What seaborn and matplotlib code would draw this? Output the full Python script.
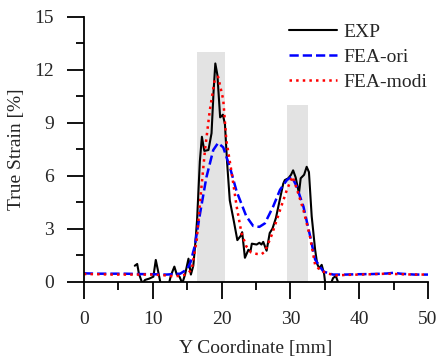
import numpy as np
import pandas as pd
import matplotlib
matplotlib.use("Agg")
import matplotlib.pyplot as plt
import seaborn as sns

# strain-gauge zones (shaded bars)
zone_start = [16.5, 29.5]
zone_end = [20.5, 32.5]
zone_height = [13, 10]

# experimental curve
exp_x = [7.4, 7.75, 8.0, 8.5, 8.9, 9.5, 10.1, 10.45, 10.85, 11.2, 12.0, 12.4,
         12.65, 13.15, 13.5, 13.9, 14.3, 14.7, 15.2, 15.55, 15.9, 16.2, 16.45,
         16.85, 17.15, 17.5, 18.1, 18.55, 18.85, 19.1, 19.4, 19.8, 20.2, 20.5,
         20.8, 21.2, 21.8, 22.3, 22.8, 23.0, 23.4, 23.9, 24.2, 24.4, 25.1, 25.5,
         25.8, 26.06, 26.55, 27.0, 27.4, 27.9, 28.5, 28.97, 29.2, 29.7, 30.1,
         30.4, 30.77, 31.25, 31.5, 32.0, 32.37, 32.7, 33.1, 33.6, 33.9, 34.2,
         34.55, 34.9, 35.1, 35.7, 36.2, 36.6, 37.0]
exp_y = [0.9, 1.0, 0.45, -0.1, 0.1, 0.17, 0.28, 1.23, 0.47, -0.2, -0.3, -0.05,
         0.35, 0.85, 0.4, 0.28, -0.1, 0.4, 1.3, 0.4, 0.9, 2.2, 3.5,
         6.8, 8.2, 7.4, 7.45, 8.4, 10.8, 12.35, 11.7, 9.3, 9.45, 8.9,
         6.8, 4.6, 3.4, 2.35, 2.6, 2.8, 1.35, 1.8, 1.7, 2.15, 2.1, 2.2,
         2.1, 2.25, 1.75, 2.75, 3.0, 3.6, 4.7, 5.55, 5.75, 5.85, 6.05,
         6.3, 5.9, 5.0, 5.85, 6.05, 6.5, 6.2, 3.7, 1.8, 1.0, 0.75,
         0.95, 0.45, -0.2, -0.3, 0.2, 0.32, -0.1]

# original FE model
ori_x = [0, 2, 4, 6, 8, 10, 12, 14, 15, 15.5, 16.1, 16.9, 17.8, 18.8, 19.5,
         20.25, 21.2, 22.2, 23.6, 24.6, 25.5, 26.3, 27.5, 28.5, 29.5, 30.2,
         30.9, 31.9, 32.8, 33.6, 34.8, 36.2, 38, 40, 42, 44, 45, 46, 48, 50]
ori_y = [0.47, 0.45, 0.45, 0.45, 0.43, 0.42, 0.4, 0.45, 0.7, 1.1, 2.0, 3.9,
         5.9, 7.45, 7.85, 7.6, 6.5, 5.1, 3.7, 3.15, 3.1, 3.3, 4.25, 5.2, 5.75,
         5.95, 5.4, 4.25, 2.7, 1.25, 0.57, 0.4, 0.4, 0.42, 0.43, 0.46, 0.5,
         0.45, 0.4, 0.4]

# modified FE model
modi_x = [0, 2, 4, 6, 8, 10, 12, 13, 14, 14.8, 15.65, 16.4, 16.9, 17.6, 18.3,
          19.0, 19.5, 20.25, 20.7, 21.5, 22.2, 22.9, 23.6, 24.3, 25.1, 25.8,
          26.3, 27.3, 28.5, 29.5, 30.3, 30.9, 31.9, 32.85, 33.6, 34.3, 35.3,
          36.7, 38, 40, 42, 44, 46, 48, 50]
modi_y = [0.43, 0.42, 0.4, 0.4, 0.4, 0.4, 0.35, 0.3, 0.33, 0.4, 0.66, 2.36,
          4.6, 7.45, 9.7, 11.4, 11.6, 10.3, 8.0, 6.1, 4.25, 2.75, 2.0, 1.65,
          1.57, 1.55, 1.7, 2.65, 4.05, 5.2, 5.95, 5.3, 4.05, 2.55, 0.95, 0.66,
          0.47, 0.35, 0.38, 0.4, 0.42, 0.45, 0.42, 0.4, 0.4]


def main():
    sns.set_style("ticks")
    plt.rcParams["font.family"] = ["Liberation Serif", "DejaVu Serif"]

    fig = plt.figure(figsize=(4.39, 3.62), dpi=100)
    ax = fig.add_axes([0.191, 0.222, 0.784, 0.732])

    widths = [e - s for s, e in zip(zone_start, zone_end)]
    ax.bar(zone_start, zone_height, width=widths, align="edge",
           color="#e3e3e3", edgecolor="none", zorder=0)

    sns.lineplot(x=exp_x, y=exp_y, ax=ax, color="black", lw=1.5,
                 sort=False, estimator=None, label="EXP")
    sns.lineplot(x=ori_x, y=ori_y, ax=ax, color="#0000ff", lw=1.8,
                 linestyle="--", sort=False, estimator=None, label="FEA-ori")
    sns.lineplot(x=modi_x, y=modi_y, ax=ax, color="#ff0000", lw=1.8,
                 linestyle=":", sort=False, estimator=None, label="FEA-modi")

    ax.set_xlim(0, 50)
    ax.set_ylim(0, 15)
    ax.set_xticks(np.arange(0, 51, 10))
    ax.set_xticks(np.arange(0, 51, 5), minor=True)
    ax.set_yticks(np.arange(0, 16, 3))
    ax.set_yticks(np.arange(0, 16, 1.5), minor=True)
    ax.tick_params(which="major", length=12, width=1.3, direction="out",
                   labelsize=14, pad=9.5, color="black")
    ax.tick_params(which="minor", length=5.5, width=1.3, direction="out",
                   color="black")
    for side in ["left", "bottom"]:
        ax.spines[side].set_linewidth(1.3)
        ax.spines[side].set_color("black")
    sns.despine(ax=ax)

    ax.set_xlabel("Y Coordinate [mm]", fontsize=14, labelpad=8.5)
    ax.set_ylabel("True Strain [%]", fontsize=14, labelpad=7)

    ax.legend(loc="upper right", bbox_to_anchor=(1.02, 1.005), frameon=False,
              fontsize=14, handlelength=2.5, handletextpad=0.3,
              labelspacing=0.38, borderaxespad=0.0)

    fig.savefig("out.png", dpi=100)
    plt.close(fig)


if __name__ == "__main__":
    main()
